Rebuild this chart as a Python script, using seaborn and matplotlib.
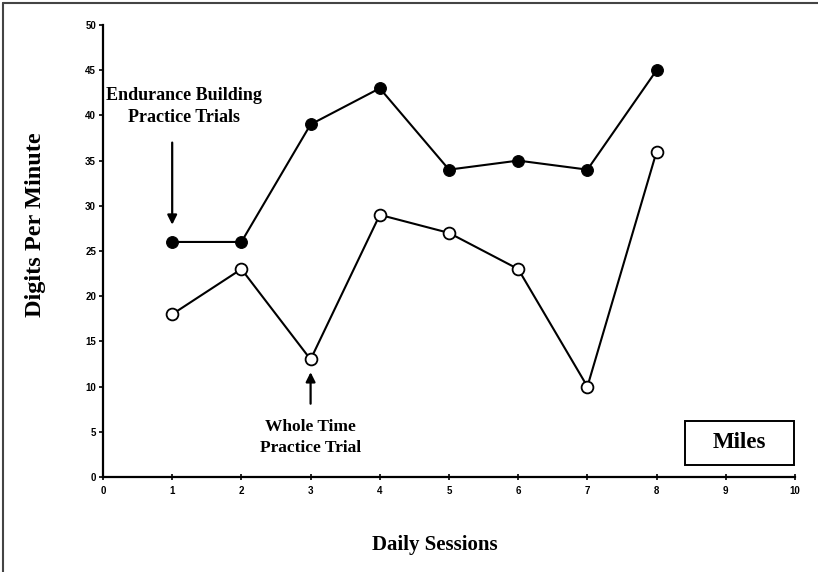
import matplotlib
matplotlib.use("Agg")
import matplotlib.pyplot as plt
import matplotlib.patches as patches
from matplotlib.lines import Line2D
import pandas as pd
import seaborn as sns

# data
sessions = [1, 2, 3, 4, 5, 6, 7, 8]
endurance = [26, 26, 39, 43, 34, 35, 34, 45]
whole_time = [18, 23, 13, 29, 27, 23, 10, 36]

x_ticks = list(range(0, 11))
y_ticks = list(range(0, 51, 5))

df = pd.DataFrame({"session": sessions, "endurance": endurance, "whole": whole_time})

sns.set_style("white")
plt.rcParams["font.family"] = ["Liberation Serif", "DejaVu Serif"]
plt.rcParams["text.color"] = "black"

fig = plt.figure(figsize=(8.18, 5.72), dpi=100)
ax = fig.add_axes([0.1259, 0.1661, 0.846, 0.7902])

sns.lineplot(data=df, x="session", y="endurance", ax=ax, color="black", lw=1.5,
             marker="o", markersize=8.5, markerfacecolor="black", markeredgecolor="black")
sns.lineplot(data=df, x="session", y="whole", ax=ax, color="black", lw=1.5,
             marker="o", markersize=8.5, markerfacecolor="white", markeredgecolor="black",
             markeredgewidth=1.3)

ax.set_xlim(0, 10)
ax.set_ylim(0, 50)
ax.set_xticks(x_ticks)
ax.set_yticks(y_ticks)
ax.set_xlabel("")
ax.set_ylabel("")
for lab in ax.get_xticklabels() + ax.get_yticklabels():
    lab.set_fontfamily("Liberation Sans")
    lab.set_fontweight("bold")
    lab.set_fontsize(7)
ax.tick_params(axis="x", bottom=True, direction="inout", length=5, width=1.2, pad=4,
               colors="black")
ax.tick_params(axis="y", left=True, direction="out", length=3, width=1.2, pad=2,
               colors="black")
for side in ["top", "right"]:
    ax.spines[side].set_visible(False)
for side in ["left", "bottom"]:
    ax.spines[side].set_linewidth(1.6)
    ax.spines[side].set_color("black")

# annotations
ax.annotate("", xy=(1, 27.6), xytext=(1, 37.3),
            arrowprops=dict(arrowstyle="-|>", color="black", lw=1.6, mutation_scale=14))
ax.text(1.17, 41.0, "Endurance Building\nPractice Trials", ha="center", va="center",
        fontsize=13, fontweight="bold", linespacing=1.4)
ax.annotate("", xy=(3, 11.9), xytext=(3, 7.8),
            arrowprops=dict(arrowstyle="-|>", color="black", lw=1.6, mutation_scale=14))
ax.text(3, 4.4, "Whole Time\nPractice Trial", ha="center", va="center",
        fontsize=12.5, fontweight="bold", linespacing=1.4)

# "Miles" box
ax.add_patch(patches.Rectangle((0.841, 0.027), 0.157, 0.097, transform=ax.transAxes,
                               fill=False, edgecolor="black", lw=1.4, clip_on=False))
ax.text(0.9195, 0.0755, "Miles", transform=ax.transAxes, ha="center", va="center",
        fontsize=16.5, fontweight="bold")

fig.text(0.531, 0.047, "Daily Sessions", ha="center", va="center", fontsize=15,
         fontweight="bold")
fig.text(0.043, 0.607, "Digits Per Minute", ha="center", va="center", rotation=90,
         fontsize=17.5, fontweight="bold")

# frame lines on top and left of the figure
fig.add_artist(Line2D([0.004, 1.0], [0.994, 0.994], transform=fig.transFigure,
                      color="#444444", lw=1.5))
fig.add_artist(Line2D([0.004, 0.004], [0.0, 0.994], transform=fig.transFigure,
                      color="#444444", lw=1.5))

fig.savefig("out.png", dpi=100, facecolor="white")
